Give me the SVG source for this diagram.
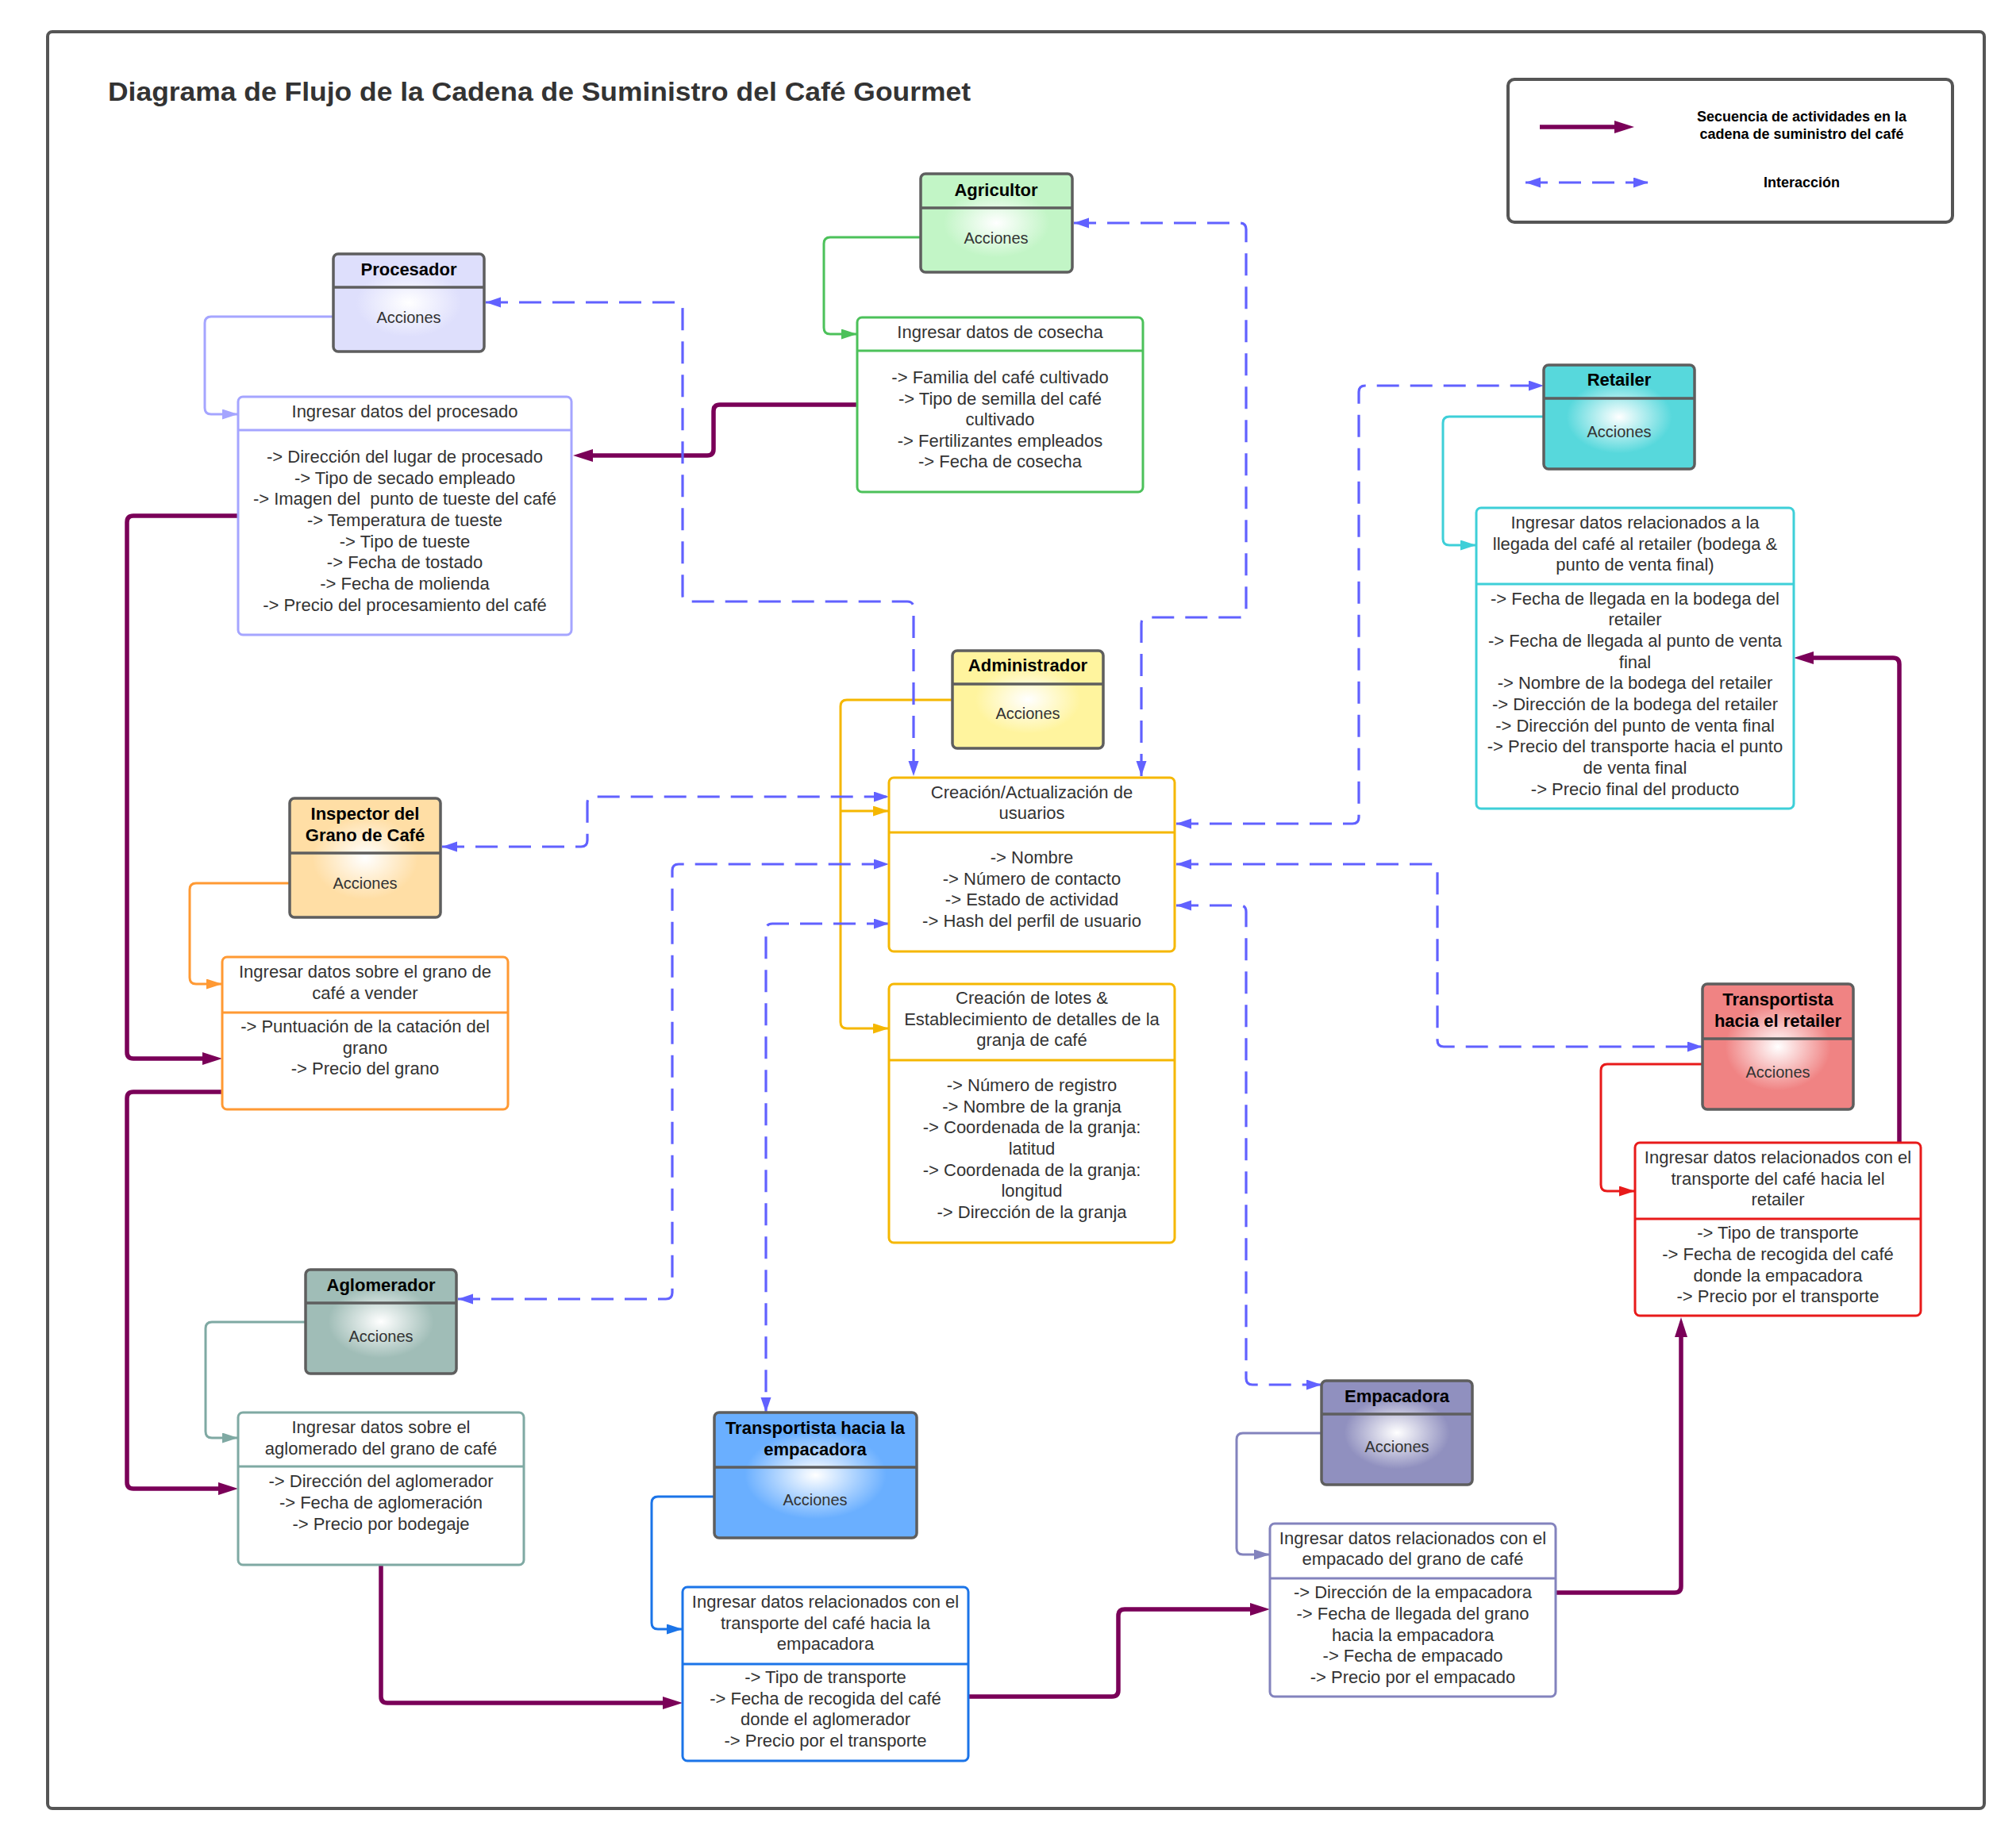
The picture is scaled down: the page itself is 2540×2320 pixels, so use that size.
<svg xmlns="http://www.w3.org/2000/svg" width="2540" height="2320" viewBox="0 0 2540 2320">
<defs>
<style>
.t{font-family:"Liberation Sans",Arial,sans-serif;font-size:22px;fill:#333;text-anchor:middle}
.h{font-family:"Liberation Sans",Arial,sans-serif;font-size:22px;font-weight:bold;fill:#000;text-anchor:middle}
.a{font-family:"Liberation Sans",Arial,sans-serif;font-size:20px;fill:#333;text-anchor:middle}
.lg{font-family:"Liberation Sans",Arial,sans-serif;font-size:18px;font-weight:bold;fill:#000;text-anchor:middle}
.node{stroke:#5e5e5e;stroke-width:3.5}
.hl{stroke:#5e5e5e;stroke-width:3.5}
.box{fill:#fff;stroke-width:3}
.seq{fill:none;stroke:#7a0058;stroke-width:5.5}
.int{fill:none;stroke:#6161ff;stroke-width:3.2;stroke-dasharray:28 14}
.thin{fill:none;stroke-width:3}
</style>
<radialGradient id="gAgr" cx="50%" cy="50%" r="50%"><stop offset="0" stop-color="#fff"/><stop offset="0.7" stop-color="#c2f5c6"/></radialGradient>
<radialGradient id="gPro" cx="50%" cy="50%" r="50%"><stop offset="0" stop-color="#fff"/><stop offset="0.7" stop-color="#dedffc"/></radialGradient>
<radialGradient id="gRet" cx="50%" cy="50%" r="50%"><stop offset="0" stop-color="#fff"/><stop offset="0.7" stop-color="#57d8dc"/></radialGradient>
<radialGradient id="gAdm" cx="50%" cy="50%" r="50%"><stop offset="0" stop-color="#fff"/><stop offset="0.7" stop-color="#fff49e"/></radialGradient>
<radialGradient id="gIns" cx="50%" cy="50%" r="50%"><stop offset="0" stop-color="#fff"/><stop offset="0.7" stop-color="#ffdea5"/></radialGradient>
<radialGradient id="gAgl" cx="50%" cy="50%" r="50%"><stop offset="0" stop-color="#fff"/><stop offset="0.7" stop-color="#a0bdb7"/></radialGradient>
<radialGradient id="gTre" cx="50%" cy="50%" r="50%"><stop offset="0" stop-color="#fff"/><stop offset="0.7" stop-color="#6aafff"/></radialGradient>
<radialGradient id="gEmp" cx="50%" cy="50%" r="50%"><stop offset="0" stop-color="#fff"/><stop offset="0.7" stop-color="#9090bf"/></radialGradient>
<radialGradient id="gTrr" cx="50%" cy="50%" r="50%"><stop offset="0" stop-color="#fff"/><stop offset="0.7" stop-color="#f08383"/></radialGradient>
<marker id="mSeq" markerUnits="userSpaceOnUse" markerWidth="26" markerHeight="18" refX="15" refY="8" orient="auto"><path d="M0,0 L25,8 L0,16 Z" fill="#7a0058"/></marker>
<marker id="mInt" markerUnits="userSpaceOnUse" markerWidth="20" markerHeight="14" refX="19" refY="6.5" orient="auto-start-reverse"><path d="M0,0 L19,6.5 L0,13 Z" fill="#6161ff"/></marker>
<marker id="mGrn" markerUnits="userSpaceOnUse" markerWidth="21" markerHeight="14" refX="20" refY="6.5" orient="auto"><path d="M0,0 L20,6.5 L0,13 Z" fill="#4cc15a"/></marker>
<marker id="mLpu" markerUnits="userSpaceOnUse" markerWidth="21" markerHeight="14" refX="20" refY="6.5" orient="auto"><path d="M0,0 L20,6.5 L0,13 Z" fill="#a5a5ff"/></marker>
<marker id="mCya" markerUnits="userSpaceOnUse" markerWidth="21" markerHeight="14" refX="20" refY="6.5" orient="auto"><path d="M0,0 L20,6.5 L0,13 Z" fill="#3ecfd8"/></marker>
<marker id="mYel" markerUnits="userSpaceOnUse" markerWidth="21" markerHeight="14" refX="20" refY="6.5" orient="auto"><path d="M0,0 L20,6.5 L0,13 Z" fill="#f5b700"/></marker>
<marker id="mOra" markerUnits="userSpaceOnUse" markerWidth="21" markerHeight="14" refX="20" refY="6.5" orient="auto"><path d="M0,0 L20,6.5 L0,13 Z" fill="#ff9933"/></marker>
<marker id="mTea" markerUnits="userSpaceOnUse" markerWidth="21" markerHeight="14" refX="20" refY="6.5" orient="auto"><path d="M0,0 L20,6.5 L0,13 Z" fill="#7fa9a3"/></marker>
<marker id="mBlu" markerUnits="userSpaceOnUse" markerWidth="21" markerHeight="14" refX="20" refY="6.5" orient="auto"><path d="M0,0 L20,6.5 L0,13 Z" fill="#1b74e8"/></marker>
<marker id="mVio" markerUnits="userSpaceOnUse" markerWidth="21" markerHeight="14" refX="20" refY="6.5" orient="auto"><path d="M0,0 L20,6.5 L0,13 Z" fill="#8383bd"/></marker>
<marker id="mRed" markerUnits="userSpaceOnUse" markerWidth="21" markerHeight="14" refX="20" refY="6.5" orient="auto"><path d="M0,0 L20,6.5 L0,13 Z" fill="#e81a1a"/></marker>
</defs>
<rect width="2540" height="2320" fill="#fff"/>
<rect x="60" y="40" width="2440" height="2239" rx="6" fill="none" stroke="#555" stroke-width="4"/>
<text x="136" y="127" font-family="Liberation Sans,Arial,sans-serif" font-size="34" font-weight="bold" fill="#333" textLength="1087" lengthAdjust="spacingAndGlyphs">Diagrama de Flujo de la Cadena de Suministro del Café Gourmet</text>

<g id="legend">
<rect x="1900" y="100" width="560" height="180" rx="8" fill="#fff" stroke="#555" stroke-width="4"/>
<path d="M1940,160 H2049" class="seq" marker-end="url(#mSeq)"/>
<text class="lg" x="2270" y="153">Secuencia de actividades en la</text>
<text class="lg" x="2270" y="175">cadena de suministro del café</text>
<path d="M1922,230 H2077" class="int" stroke-dasharray="22 16" marker-start="url(#mInt)" marker-end="url(#mInt)"/>
<text class="lg" x="2270" y="236">Interacción</text>
</g>

<g id="connectors">
<path class="thin" stroke="#4cc15a" d="M1160,299 H1046 Q1038,299 1038,307 V413 Q1038,421 1046,421 H1080" marker-end="url(#mGrn)"/>
<path class="thin" stroke="#a5a5ff" d="M420,399 H266 Q258,399 258,407 V514 Q258,522 266,522 H300" marker-end="url(#mLpu)"/>
<path class="thin" stroke="#3ecfd8" d="M1945,525 H1826 Q1818,525 1818,533 V679 Q1818,687 1826,687 H1860" marker-end="url(#mCya)"/>
<path class="thin" stroke="#f5b700" d="M1200,882 H1067 Q1059,882 1059,890 V1288 Q1059,1296 1067,1296 H1120" marker-end="url(#mYel)"/>
<path class="thin" stroke="#f5b700" d="M1059,1022 H1120" marker-end="url(#mYel)"/>
<path class="thin" stroke="#ff9933" d="M365,1113 H247 Q239,1113 239,1121 V1232 Q239,1240 247,1240 H280" marker-end="url(#mOra)"/>
<path class="thin" stroke="#7fa9a3" d="M385,1666 H267 Q259,1666 259,1674 V1804 Q259,1812 267,1812 H300" marker-end="url(#mTea)"/>
<path class="thin" stroke="#1b74e8" d="M900,1886 H829 Q821,1886 821,1894 V2045 Q821,2053 829,2053 H860" marker-end="url(#mBlu)"/>
<path class="thin" stroke="#8383bd" d="M1665,1806 H1566 Q1558,1806 1558,1814 V1951 Q1558,1959 1566,1959 H1600" marker-end="url(#mVio)"/>
<path class="thin" stroke="#e81a1a" d="M2145,1341 H2025 Q2017,1341 2017,1349 V1493 Q2017,1501 2025,1501 H2060" marker-end="url(#mRed)"/>

<path class="seq" d="M1080,510 H907 Q899,510 899,518 V566 Q899,574 891,574 H732" marker-end="url(#mSeq)"/>
<path class="seq" d="M300,650 H168 Q160,650 160,658 V1326 Q160,1334 168,1334 H270" marker-end="url(#mSeq)"/>
<path class="seq" d="M280,1376 H168 Q160,1376 160,1384 V1868 Q160,1876 168,1876 H290" marker-end="url(#mSeq)"/>
<path class="seq" d="M480,1972 V2138 Q480,2146 488,2146 H850" marker-end="url(#mSeq)"/>
<path class="seq" d="M1220,2138 H1401 Q1409,2138 1409,2130 V2036 Q1409,2028 1417,2028 H1590" marker-end="url(#mSeq)"/>
<path class="seq" d="M1960,2007 H2110 Q2118,2007 2118,1999 V1670" marker-end="url(#mSeq)"/>
<path class="seq" d="M2393,1440 V837 Q2393,829 2385,829 H2270" marker-end="url(#mSeq)"/>

<path class="int" d="M1353,281 H1562 Q1570,281 1570,289 V770 Q1570,778 1562,778 H1446 Q1438,778 1438,786 V978" marker-start="url(#mInt)" marker-end="url(#mInt)"/>
<path class="int" d="M612,381 H852 Q860,381 860,389 V750 Q860,758 868,758 H1143 Q1151,758 1151,766 V978" marker-start="url(#mInt)" marker-end="url(#mInt)"/>
<path class="int" d="M1482,1038 H1704 Q1712,1038 1712,1030 V494 Q1712,486 1720,486 H1945" marker-start="url(#mInt)" marker-end="url(#mInt)"/>
<path class="int" d="M557,1067 H732 Q740,1067 740,1059 V1012 Q740,1004 748,1004 H1120" marker-start="url(#mInt)" marker-end="url(#mInt)"/>
<path class="int" d="M577,1637 H839 Q847,1637 847,1629 V1097 Q847,1089 855,1089 H1120" marker-start="url(#mInt)" marker-end="url(#mInt)"/>
<path class="int" d="M1120,1164 H973 Q965,1164 965,1172 V1780" marker-start="url(#mInt)" marker-end="url(#mInt)"/>
<path class="int" d="M1482,1089 H1803 Q1811,1089 1811,1097 V1311 Q1811,1319 1819,1319 H2145" marker-start="url(#mInt)" marker-end="url(#mInt)"/>
<path class="int" d="M1482,1141 H1562 Q1570,1141 1570,1149 V1737 Q1570,1745 1578,1745 H1665" marker-start="url(#mInt)" marker-end="url(#mInt)"/>
</g>

<g id="agricultor">
<rect class="node" x="1160" y="219" width="191" height="124" rx="6" fill="url(#gAgr)"/>
<line class="hl" x1="1160" y1="262" x2="1351" y2="262"/>
<text class="h" x="1255" y="247">Agricultor</text>
<text class="a" x="1255" y="307">Acciones</text>
</g>
<g id="procesador">
<rect class="node" x="420" y="320" width="190" height="123" rx="6" fill="url(#gPro)"/>
<line class="hl" x1="420" y1="362" x2="610" y2="362"/>
<text class="h" x="515" y="347">Procesador</text>
<text class="a" x="515" y="407">Acciones</text>
</g>
<g id="retailer">
<rect class="node" x="1945" y="460" width="190" height="131" rx="6" fill="url(#gRet)"/>
<line class="hl" x1="1945" y1="502" x2="2135" y2="502"/>
<text class="h" x="2040" y="486">Retailer</text>
<text class="a" x="2040" y="551">Acciones</text>
</g>
<g id="administrador">
<rect class="node" x="1200" y="820" width="190" height="123" rx="6" fill="url(#gAdm)"/>
<line class="hl" x1="1200" y1="862" x2="1390" y2="862"/>
<text class="h" x="1295" y="846">Administrador</text>
<text class="a" x="1295" y="906">Acciones</text>
</g>
<g id="inspector">
<rect class="node" x="365" y="1006" width="190" height="150" rx="6" fill="url(#gIns)"/>
<line class="hl" x1="365" y1="1075" x2="555" y2="1075"/>
<text class="h" x="460" y="1033">Inspector del</text>
<text class="h" x="460" y="1060">Grano de Café</text>
<text class="a" x="460" y="1120">Acciones</text>
</g>
<g id="aglomerador">
<rect class="node" x="385" y="1600" width="190" height="131" rx="6" fill="url(#gAgl)"/>
<line class="hl" x1="385" y1="1642" x2="575" y2="1642"/>
<text class="h" x="480" y="1627">Aglomerador</text>
<text class="a" x="480" y="1691">Acciones</text>
</g>
<g id="transportista-empacadora">
<rect class="node" x="900" y="1780" width="255" height="158" rx="6" fill="url(#gTre)"/>
<line class="hl" x1="900" y1="1849" x2="1155" y2="1849"/>
<text class="h" x="1027" y="1807">Transportista hacia la</text>
<text class="h" x="1027" y="1834">empacadora</text>
<text class="a" x="1027" y="1897">Acciones</text>
</g>
<g id="empacadora">
<rect class="node" x="1665" y="1740" width="190" height="131" rx="6" fill="url(#gEmp)"/>
<line class="hl" x1="1665" y1="1782" x2="1855" y2="1782"/>
<text class="h" x="1760" y="1767">Empacadora</text>
<text class="a" x="1760" y="1830">Acciones</text>
</g>
<g id="transportista-retailer">
<rect class="node" x="2145" y="1240" width="190" height="158" rx="6" fill="url(#gTrr)"/>
<line class="hl" x1="2145" y1="1309" x2="2335" y2="1309"/>
<text class="h" x="2240" y="1267">Transportista</text>
<text class="h" x="2240" y="1294">hacia el retailer</text>
<text class="a" x="2240" y="1358">Acciones</text>
</g>

<g id="datos-cosecha">
<rect class="box" stroke="#4cc15a" x="1080" y="400" width="360" height="220" rx="6"/>
<line stroke="#4cc15a" stroke-width="3" x1="1080" y1="442" x2="1440" y2="442"/>
<text class="t" x="1260" y="426">Ingresar datos de cosecha</text>
<text class="t" x="1260" y="483">-&gt; Familia del café cultivado</text>
<text class="t" x="1260" y="510">-&gt; Tipo de semilla del café</text>
<text class="t" x="1260" y="536">cultivado</text>
<text class="t" x="1260" y="563">-&gt; Fertilizantes empleados</text>
<text class="t" x="1260" y="589">-&gt; Fecha de cosecha</text>
</g>
<g id="datos-procesado">
<rect class="box" stroke="#a5a5ff" x="300" y="500" width="420" height="300" rx="6"/>
<line stroke="#a5a5ff" stroke-width="3" x1="300" y1="542" x2="720" y2="542"/>
<text class="t" x="510" y="526">Ingresar datos del procesado</text>
<text class="t" x="510" y="583">-&gt; Dirección del lugar de procesado</text>
<text class="t" x="510" y="610">-&gt; Tipo de secado empleado</text>
<text class="t" x="510" y="636" style="white-space:pre">-&gt; Imagen del  punto de tueste del café</text>
<text class="t" x="510" y="663">-&gt; Temperatura de tueste</text>
<text class="t" x="510" y="690">-&gt; Tipo de tueste</text>
<text class="t" x="510" y="716">-&gt; Fecha de tostado</text>
<text class="t" x="510" y="743">-&gt; Fecha de molienda</text>
<text class="t" x="510" y="770">-&gt; Precio del procesamiento del café</text>
</g>
<g id="datos-retailer">
<rect class="box" stroke="#3ecfd8" x="1860" y="640" width="400" height="379" rx="6"/>
<line stroke="#3ecfd8" stroke-width="3" x1="1860" y1="736" x2="2260" y2="736"/>
<text class="t" x="2060" y="666">Ingresar datos relacionados a la</text>
<text class="t" x="2060" y="693">llegada del café al retailer (bodega &amp;</text>
<text class="t" x="2060" y="719">punto de venta final)</text>
<text class="t" x="2060" y="762">-&gt; Fecha de llegada en la bodega del</text>
<text class="t" x="2060" y="788">retailer</text>
<text class="t" x="2060" y="815">-&gt; Fecha de llegada al punto de venta</text>
<text class="t" x="2060" y="842">final</text>
<text class="t" x="2060" y="868">-&gt; Nombre de la bodega del retailer</text>
<text class="t" x="2060" y="895">-&gt; Dirección de la bodega del retailer</text>
<text class="t" x="2060" y="922">-&gt; Dirección del punto de venta final</text>
<text class="t" x="2060" y="948">-&gt; Precio del transporte hacia el punto</text>
<text class="t" x="2060" y="975">de venta final</text>
<text class="t" x="2060" y="1002">-&gt; Precio final del producto</text>
</g>
<g id="usuarios">
<rect class="box" stroke="#f5b700" x="1120" y="980" width="360" height="219" rx="6"/>
<line stroke="#f5b700" stroke-width="3" x1="1120" y1="1049" x2="1480" y2="1049"/>
<text class="t" x="1300" y="1006">Creación/Actualización de</text>
<text class="t" x="1300" y="1032">usuarios</text>
<text class="t" x="1300" y="1088">-&gt; Nombre</text>
<text class="t" x="1300" y="1115">-&gt; Número de contacto</text>
<text class="t" x="1300" y="1141">-&gt; Estado de actividad</text>
<text class="t" x="1300" y="1168">-&gt; Hash del perfil de usuario</text>
</g>
<g id="lotes">
<rect class="box" stroke="#f5b700" x="1120" y="1240" width="360" height="326" rx="6"/>
<line stroke="#f5b700" stroke-width="3" x1="1120" y1="1336" x2="1480" y2="1336"/>
<text class="t" x="1300" y="1265">Creación de lotes &amp;</text>
<text class="t" x="1300" y="1292">Establecimiento de detalles de la</text>
<text class="t" x="1300" y="1318">granja de café</text>
<text class="t" x="1300" y="1375">-&gt; Número de registro</text>
<text class="t" x="1300" y="1402">-&gt; Nombre de la granja</text>
<text class="t" x="1300" y="1428">-&gt; Coordenada de la granja:</text>
<text class="t" x="1300" y="1455">latitud</text>
<text class="t" x="1300" y="1482">-&gt; Coordenada de la granja:</text>
<text class="t" x="1300" y="1508">longitud</text>
<text class="t" x="1300" y="1535">-&gt; Dirección de la granja</text>
</g>
<g id="datos-grano">
<rect class="box" stroke="#ff9933" x="280" y="1206" width="360" height="192" rx="6"/>
<line stroke="#ff9933" stroke-width="3" x1="280" y1="1276" x2="640" y2="1276"/>
<text class="t" x="460" y="1232">Ingresar datos sobre el grano de</text>
<text class="t" x="460" y="1259">café a vender</text>
<text class="t" x="460" y="1301">-&gt; Puntuación de la catación del</text>
<text class="t" x="460" y="1328">grano</text>
<text class="t" x="460" y="1354">-&gt; Precio del grano</text>
</g>
<g id="datos-aglomerado">
<rect class="box" stroke="#7fa9a3" x="300" y="1780" width="360" height="192" rx="6"/>
<line stroke="#7fa9a3" stroke-width="3" x1="300" y1="1848" x2="660" y2="1848"/>
<text class="t" x="480" y="1806">Ingresar datos sobre el</text>
<text class="t" x="480" y="1833">aglomerado del grano de café</text>
<text class="t" x="480" y="1874">-&gt; Dirección del aglomerador</text>
<text class="t" x="480" y="1901">-&gt; Fecha de aglomeración</text>
<text class="t" x="480" y="1928">-&gt; Precio por bodegaje</text>
</g>
<g id="datos-transporte-empacadora">
<rect class="box" stroke="#1b74e8" x="860" y="2000" width="360" height="219" rx="6"/>
<line stroke="#1b74e8" stroke-width="3" x1="860" y1="2097" x2="1220" y2="2097"/>
<text class="t" x="1040" y="2026">Ingresar datos relacionados con el</text>
<text class="t" x="1040" y="2053">transporte del café hacia la</text>
<text class="t" x="1040" y="2079">empacadora</text>
<text class="t" x="1040" y="2121">-&gt; Tipo de transporte</text>
<text class="t" x="1040" y="2148">-&gt; Fecha de recogida del café</text>
<text class="t" x="1040" y="2174">donde el aglomerador</text>
<text class="t" x="1040" y="2201">-&gt; Precio por el transporte</text>
</g>
<g id="datos-empacado">
<rect class="box" stroke="#8383bd" x="1600" y="1920" width="360" height="218" rx="6"/>
<line stroke="#8383bd" stroke-width="3" x1="1600" y1="1989" x2="1960" y2="1989"/>
<text class="t" x="1780" y="1946">Ingresar datos relacionados con el</text>
<text class="t" x="1780" y="1972">empacado del grano de café</text>
<text class="t" x="1780" y="2014">-&gt; Dirección de la empacadora</text>
<text class="t" x="1780" y="2041">-&gt; Fecha de llegada del grano</text>
<text class="t" x="1780" y="2068">hacia la empacadora</text>
<text class="t" x="1780" y="2094">-&gt; Fecha de empacado</text>
<text class="t" x="1780" y="2121">-&gt; Precio por el empacado</text>
</g>
<g id="datos-transporte-retailer">
<rect class="box" stroke="#e81a1a" x="2060" y="1440" width="360" height="218" rx="6"/>
<line stroke="#e81a1a" stroke-width="3" x1="2060" y1="1536" x2="2420" y2="1536"/>
<text class="t" x="2240" y="1466">Ingresar datos relacionados con el</text>
<text class="t" x="2240" y="1493">transporte del café hacia lel</text>
<text class="t" x="2240" y="1519">retailer</text>
<text class="t" x="2240" y="1561">-&gt; Tipo de transporte</text>
<text class="t" x="2240" y="1588">-&gt; Fecha de recogida del café</text>
<text class="t" x="2240" y="1615">donde la empacadora</text>
<text class="t" x="2240" y="1641">-&gt; Precio por el transporte</text>
</g>
</svg>
